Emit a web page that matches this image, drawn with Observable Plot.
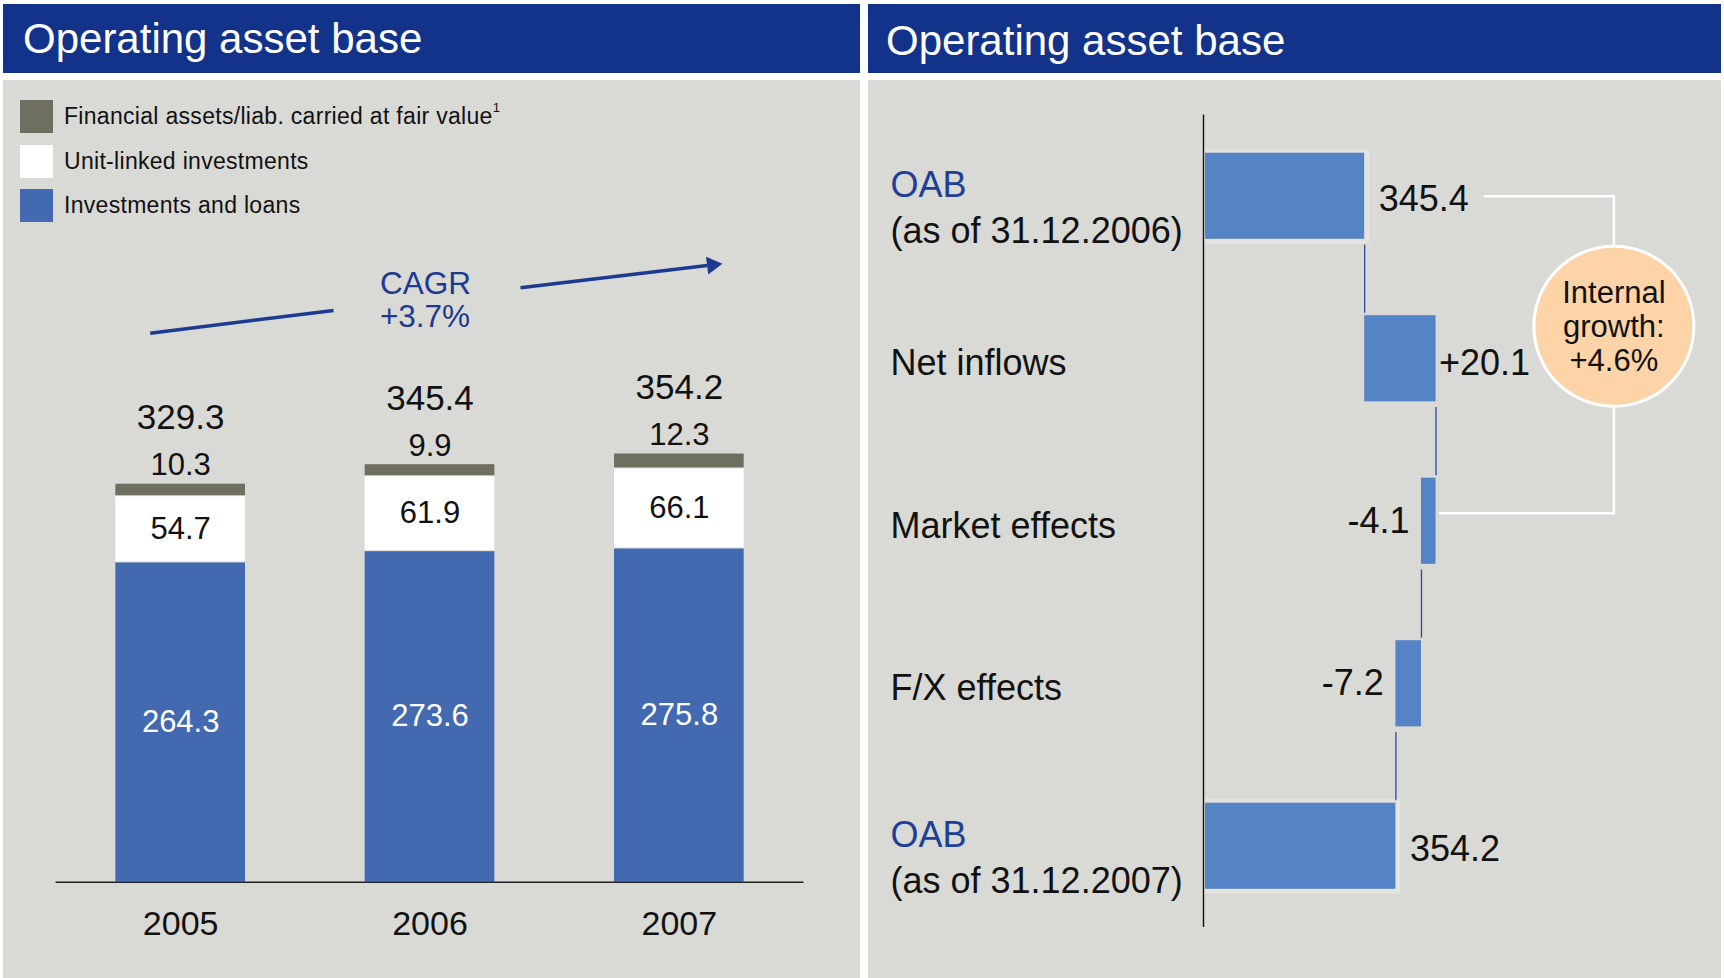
<!DOCTYPE html>
<html>
<head>
<meta charset="utf-8">
<script src="https://cdn.jsdelivr.net/npm/d3@7"></script>
<script src="https://cdn.jsdelivr.net/npm/@observablehq/plot@0.6"></script>
<style>
  html, body { margin: 0; padding: 0; background: #ffffff; }
  body { width: 1724px; height: 978px; position: relative; overflow: hidden;
         font-family: Arial, "Liberation Sans", Helvetica, sans-serif; }
  .hdr { position: absolute; top: 4px; height: 69px; background: #13338a; color: #ffffff; }
  .hdr span { position: absolute; font-size: 42px; line-height: 1; white-space: nowrap; }
  .panel { position: absolute; top: 80px; height: 898px; background: #d9d9d5; }
  .panel svg { position: absolute; left: 0; top: 0; }
  .legend { position: absolute; left: 17px; top: 20px; }
  .legend .item { display: flex; align-items: center; height: 33px; margin-bottom: 11.5px;
                  font-size: 23px; letter-spacing: 0.3px; color: #111; white-space: nowrap; }
  .legend .sw { width: 33px; height: 33px; margin-right: 11px; flex: none; }
  .legend sup { font-size: 13px; position: relative; top: -3px; letter-spacing: 0; }
</style>
</head>
<body>
<div class="hdr" style="left:3px;width:857px;"><span id="titleL" style="left:20px;top:14px;"></span></div>
<div class="hdr" style="left:868px;width:853px;"><span id="titleR" style="left:18px;top:15.5px;"></span></div>
<div class="panel" id="panelL" style="left:3px;width:857px;"></div>
<div class="panel" id="panelR" style="left:868px;width:853px;"></div>

<script>
// ---------- Titles ----------
const titleLeft = "Operating asset base";
const titleRight = "Operating asset base";

// ---------- Left chart data ----------
const years = [2005, 2006, 2007];
const seriesNames = ["Investments and loans", "Unit-linked investments", "Financial assets/liab. carried at fair value"];
const seriesFootnotes = ["", "", "1"];
const seriesColors = ["#4369b1", "#ffffff", "#6e6f5f"];
const investmentsLoans = [264.3, 273.6, 275.8];
const unitLinked = [54.7, 61.9, 66.1];
const fairValue = [10.3, 9.9, 12.3];
const totals = [329.3, 345.4, 354.2];
const cagrLabel = "CAGR\n+3.7%";

// ---------- Right chart data ----------
const stepNames = ["OAB", "Net inflows", "Market effects", "F/X effects", "OAB"];
const stepSubNames = ["(as of 31.12.2006)", "", "", "", "(as of 31.12.2007)"];
const stepValues = [345.4, 20.1, -4.1, -7.2, 354.2];
const stepIsTotal = [true, false, false, false, true];
const internalGrowthLabel = "Internal\ngrowth:\n+4.6%";

// ---------- Styles ----------
const FONT = 'Arial, "Liberation Sans", Helvetica, sans-serif';
const navyText = "#1c3a91";
const oabBlue = "#1f3f96";
const wfBlue = "#5584c6";

document.getElementById("titleL").textContent = titleLeft;
document.getElementById("titleR").textContent = titleRight;

// ---------- Left legend (HTML) ----------
const legend = document.createElement("div");
legend.className = "legend";
[2, 1, 0].forEach(s => {
  const item = document.createElement("div");
  item.className = "item";
  const sw = document.createElement("div");
  sw.className = "sw";
  sw.style.background = seriesColors[s];
  const lab = document.createElement("span");
  lab.textContent = seriesNames[s];
  if (seriesFootnotes[s]) {
    const sup = document.createElement("sup");
    sup.textContent = seriesFootnotes[s];
    lab.appendChild(sup);
  }
  item.appendChild(sw);
  item.appendChild(lab);
  legend.appendChild(item);
});

// ---------- Left stacked bars ----------
const seriesArrays = [investmentsLoans, unitLinked, fairValue];
const stackRows = [];
years.forEach((yr, i) => {
  let base = 0;
  seriesArrays.forEach((arr, s) => {
    stackRows.push({year: yr, s, series: seriesNames[s], value: arr[i], y1: base, y2: base + arr[i]});
    base += arr[i];
  });
});
const totalRows = years.map((yr, i) => ({year: yr, total: totals[i]}));
const halfBar = 0.26;

// CAGR arrow annotation, in data units (year, value)
const cagrSeg1 = [{x1: 2004.878, y1: 453.1, x2: 2005.613, y2: 471.9}];
const cagrSeg2 = [{x1: 2006.363, y1: 490.6, x2: 2007.112, y2: 508.9}];
const cagrHead = [{x: 2007.132, y: 509.4}];
const cagrText = [{x: 2005.799, y: 504.3, text: cagrLabel}];

const leftPlot = Plot.plot({
  width: 857, height: 898,
  marginLeft: 52.5, marginRight: 56.5, marginTop: 74.7, marginBottom: 96.3,
  x: {type: "linear", domain: [2004.5, 2007.5], axis: null},
  y: {type: "linear", domain: [0, 600], axis: null},
  color: {domain: seriesNames, range: seriesColors},
  style: {background: "transparent", fontFamily: FONT, overflow: "visible"},
  marks: [
    Plot.rect(stackRows, {
      x1: d => d.year - halfBar, x2: d => d.year + halfBar,
      y1: "y1", y2: "y2", fill: "series", insetTop: 1
    }),
    Plot.ruleY([0], {stroke: "#222", strokeWidth: 1.4}),
    Plot.text(years, {x: d => d, y: () => 0, text: d => String(d), lineAnchor: "top",
      dy: 29, fontSize: 34, fill: "#111"}),
    Plot.text(stackRows.filter(d => d.s < 2), {
      x: "year", y: d => (d.y1 + d.y2) / 2, text: d => d.value.toFixed(1),
      fill: d => d.s === 0 ? "#ffffff" : "#111", fontSize: 31
    }),
    Plot.text(stackRows.filter(d => d.s === 2), {
      x: "year", y: "y2", text: d => d.value.toFixed(1),
      lineAnchor: "bottom", dy: -8, fontSize: 31, fill: "#111"
    }),
    Plot.text(totalRows, {
      x: "year", y: "total", text: d => d.total.toFixed(1),
      lineAnchor: "bottom", dy: -54, fontSize: 35, fill: "#111"
    }),
    Plot.link(cagrSeg1, {x1: "x1", y1: "y1", x2: "x2", y2: "y2", stroke: navyText, strokeWidth: 3.5}),
    Plot.link(cagrSeg2, {x1: "x1", y1: "y1", x2: "x2", y2: "y2", stroke: navyText, strokeWidth: 3.5}),
    Plot.dot(cagrHead, {x: "x", y: "y", symbol: "triangle", r: 6.6, rotate: 83, fill: navyText, stroke: "none"}),
    Plot.text(cagrText, {x: "x", y: "y", text: "text", textAnchor: "start", lineAnchor: "top",
      fontSize: 31.5, lineHeight: 1.04, fill: navyText})
  ]
});
const panelL = document.getElementById("panelL");
panelL.appendChild(leftPlot);
panelL.appendChild(legend);

// ---------- Right waterfall ----------
const xAxisStart = 300;
let running = 0;
const wfRows = stepNames.map((name, i) => {
  const v = stepValues[i];
  let start, end;
  if (stepIsTotal[i]) { start = xAxisStart; end = v; running = v; }
  else { start = running; end = running + v; running = end; }
  const label = stepIsTotal[i] ? v.toFixed(1) : (v > 0 ? "+" : "") + v.toFixed(1);
  return {i, name, sub: stepSubNames[i], v, start, end, total: stepIsTotal[i], label,
          lo: Math.min(start, end), hi: Math.max(start, end)};
});
const connectors = wfRows.slice(0, -1).map(d => ({x: d.end, y1: d.i + 0.3, y2: d.i + 0.72}));
const hh = 0.265;

// Internal growth bracket + bubble, in data units (value, row index)
const bracket = [
  {x: 379.2, y: 0}, {x: 415.6, y: 0}, {x: 415.6, y: 1.95}, {x: 366.6, y: 1.95}
];
const bubble = [{x: 415.6, y: 0.8, text: internalGrowthLabel}];

const totalsWF = wfRows.filter(d => d.total);
const deltasWF = wfRows.filter(d => !d.total);

const rightPlot = Plot.plot({
  width: 853, height: 898,
  marginLeft: 335, marginRight: 163, marginTop: 34.5, marginBottom: 51,
  x: {type: "linear", domain: [xAxisStart, 400], axis: null},
  y: {type: "linear", domain: [-0.5, 4.5], reverse: true, axis: null},
  style: {background: "transparent", fontFamily: FONT, overflow: "visible"},
  marks: [
    Plot.line(bracket, {x: "x", y: "y", stroke: "#ffffff", strokeWidth: 2.5}),
    Plot.rect(totalsWF, {x1: "start", x2: "end", y1: d => d.i - hh, y2: d => d.i + hh,
      fill: "#e3e3df", insetTop: -4, insetBottom: -5, insetRight: -5}),
    Plot.rect(totalsWF, {x1: "start", x2: "end", y1: d => d.i - hh, y2: d => d.i + hh,
      fill: wfBlue, insetLeft: 2}),
    Plot.rect(deltasWF, {x1: "lo", x2: "hi", y1: d => d.i - hh, y2: d => d.i + hh, fill: wfBlue}),
    Plot.ruleX(connectors, {x: "x", y1: "y1", y2: "y2", stroke: "#2a4a9c", strokeWidth: 1.3}),
    Plot.ruleX([xAxisStart], {stroke: "#111", strokeWidth: 1.4}),
    // value labels
    Plot.text(totalsWF, {x: "end", y: "i", text: "label", textAnchor: "start", dx: 14, dy: 3, fontSize: 36, fill: "#111"}),
    Plot.text(deltasWF.filter(d => d.v > 0), {x: "hi", y: "i", text: "label", textAnchor: "start", dx: 3, dy: 5, fontSize: 36, fill: "#111"}),
    Plot.text(deltasWF.filter(d => d.v < 0), {x: "lo", y: "i", text: "label", textAnchor: "end", dx: -12, dy: 0, fontSize: 36, fill: "#111"}),
    // category labels
    Plot.text(deltasWF, {x: () => xAxisStart, y: "i", text: "name", textAnchor: "start", dx: -313, dy: 5, fontSize: 36, fill: "#111"}),
    Plot.text(totalsWF, {x: () => xAxisStart, y: "i", text: "name", textAnchor: "start", dx: -313, dy: -11, fontSize: 36, fill: oabBlue}),
    Plot.text(totalsWF, {x: () => xAxisStart, y: "i", text: "sub", textAnchor: "start", dx: -313, dy: 35, fontSize: 36, fill: "#111"}),
    // bubble
    Plot.dot(bubble, {x: "x", y: "y", r: 80, fill: "#fdd4a8", stroke: "#ffffff", strokeWidth: 3}),
    Plot.text(bubble, {x: "x", y: "y", text: "text", fontSize: 31, lineHeight: 1.1, fill: "#111"})
  ]
});
document.getElementById("panelR").appendChild(rightPlot);
</script>
</body>
</html>
